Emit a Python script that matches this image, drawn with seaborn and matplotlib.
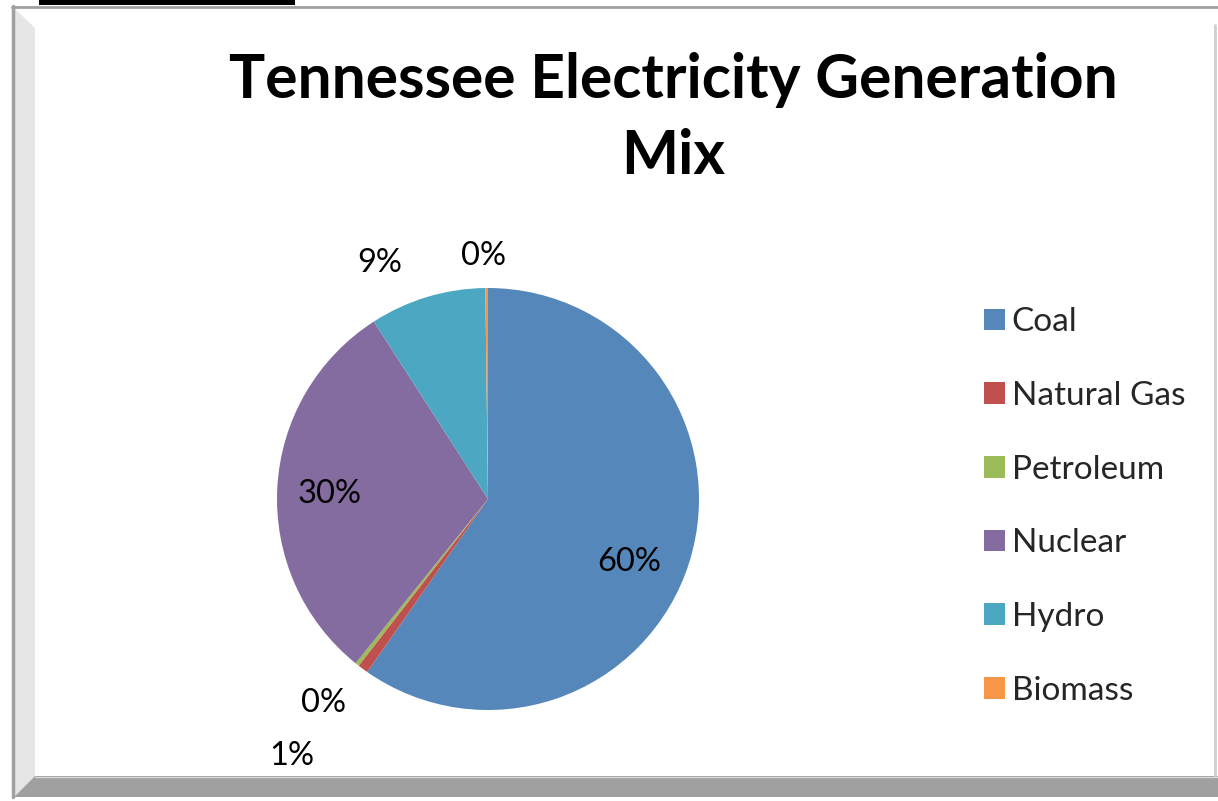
import numpy as np
import matplotlib
matplotlib.use("Agg")
import matplotlib.pyplot as plt
import matplotlib.patches as mpatches
import seaborn as sns

# ---- data ----
categories = ["Coal", "Natural Gas", "Petroleum", "Nuclear", "Hydro", "Biomass"]
shares = [59.7, 0.8, 0.3, 30.1, 8.9, 0.2]
pct_labels = ["60%", "1%", "0%", "30%", "9%", "0%"]
colors = ["#5587BA", "#C0504D", "#9BBB59", "#856CA0", "#4CA8C2", "#F79646"]
title_text = "Tennessee Electricity Generation\nMix"

# label placement style (radial distance factor, angular offset in degrees)
label_dist = [0.73, 1.53, 1.24, 0.75, 1.23, 1.15]
label_dang = [-6.5, -1.0, -0.6, 1.4, 8.0, 0.7]

sns.set_theme(style="white")
plt.rcParams['font.family'] = ['Lato', 'DejaVu Sans']

W, H = 1218, 801
fig = plt.figure(figsize=(W / 100, H / 100), dpi=100)
fig.patch.set_facecolor("white")

def fx(x):
    return x / W

def fy(y):
    return 1 - y / H

# ---- frame (Excel-like bevel) ----
bg = fig.add_axes([0, 0, 1, 1])
bg.set_xlim(0, W)
bg.set_ylim(H, 0)
bg.axis("off")
bg.add_patch(mpatches.Rectangle((39, 0), 256, 5, color="black", lw=0))
bg.plot([12, W], [6.5, 6.5], color="#a0a0a0", lw=2)
bg.plot([12.5, 12.5], [6, 797], color="#a0a0a0", lw=2.5)
bg.add_patch(mpatches.Polygon([(14, 8), (35, 28), (35, 776), (14, 797)], closed=True,
                              color="#e6e6e6", lw=0))
bg.add_patch(mpatches.Polygon([(14, 797), (35, 776), (W, 776), (W, 797)], closed=True,
                              color="#a0a0a0", lw=0))
bg.plot([35, W], [776.5, 776.5], color="#d8d8d8", lw=1)
bg.plot([1215, 1215], [25, 776], color="#cfcfcf", lw=2)

# ---- pie ----
cx, cy, R = 488, 499, 211
half = R * 1.2
ax = fig.add_axes([fx(cx - half), fy(cy + half), 2 * half / W, 2 * half / H])
wedges, _ = ax.pie(shares, colors=colors, startangle=90, counterclock=False,
                   radius=1.0, wedgeprops=dict(linewidth=0), labels=None)
ax.set_xlim(-1.2, 1.2)
ax.set_ylim(-1.2, 1.2)
ax.axis("off")
for w, lab, d, da in zip(wedges, pct_labels, label_dist, label_dang):
    mid = np.deg2rad((w.theta1 + w.theta2) / 2 + da)
    ax.text(d * np.cos(mid), d * np.sin(mid), lab, ha="center", va="center",
            fontsize=23.5, color="black", clip_on=False)

# ---- title ----
fig.text(fx(673), fy(118), title_text, ha="center", va="center", fontsize=43.6,
         fontweight="bold", color="black", linespacing=1.45)

# ---- legend ----
handles = [mpatches.Patch(facecolor=c, edgecolor="none") for c in colors]
leg = fig.legend(handles, categories, loc="upper left",
                 bbox_to_anchor=(fx(971), fy(294)), frameon=False, fontsize=24,
                 handlelength=0.62, handleheight=0.62, handletextpad=0.2,
                 labelspacing=1.31, borderaxespad=0)

fig.savefig("out.png", dpi=100, facecolor="white")
